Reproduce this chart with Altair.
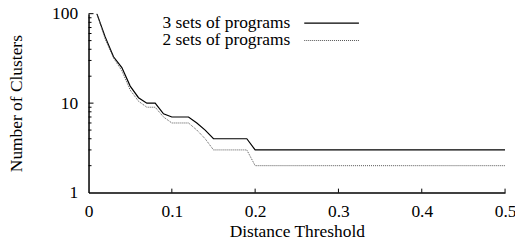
import altair as alt
import pandas as pd

# data
x_vals = [0.01, 0.02, 0.03, 0.04, 0.05, 0.06, 0.07, 0.08, 0.09, 0.10,
          0.11, 0.12, 0.13, 0.14, 0.15, 0.16, 0.17, 0.18, 0.19, 0.20, 0.50]
three_sets = [100, 55, 33, 25, 15.5, 11.5, 10, 10, 7.6, 7,
              7, 7, 6, 5, 4, 4, 4, 4, 4, 3, 3]
two_sets = [100, 52, 32, 23, 14, 10.5, 9, 9, 7, 6,
            6, 6, 5, 4, 3, 3, 3, 3, 3, 2, 2]
series_names = ["3 sets of programs", "2 sets of programs"]
y_major = [10, 100]
y_minor = [2, 3, 4, 5, 6, 7, 8, 9, 20, 30, 40, 50, 60, 70, 80, 90]
x_ticks = [0.1, 0.2, 0.3, 0.4, 0.5]

W, H = 419, 180
FONT = "Liberation Serif"
FS = 17.5

df3 = pd.DataFrame({"x": x_vals, "y": three_sets})
df2 = pd.DataFrame({"x": x_vals, "y": two_sets})

xscale = alt.Scale(domain=[0, 0.5], nice=False, zero=False)
yscale = alt.Scale(type="log", domain=[1, 100], nice=False)

xaxis = alt.Axis(values=[0, 0.1, 0.2, 0.3, 0.4, 0.5], format="~g",
                 labelPadding=10,
                 title="Distance Threshold",
                 titleX=W / 2, titleY=39, titleBaseline="middle")
yaxis = alt.Axis(values=[1, 10, 100], format="d",
                 labelPadding=11,
                 title="Number of Clusters",
                 titleX=-72, titleY=H / 2, titleAngle=-90, titleBaseline="middle")

line3 = alt.Chart(df3).mark_line(color="black", strokeWidth=1.2, clip=True).encode(
    x=alt.X("x:Q", scale=xscale, axis=xaxis),
    y=alt.Y("y:Q", scale=yscale, axis=yaxis),
)
line2 = alt.Chart(df2).mark_line(color="#555", strokeWidth=1, strokeDash=[1, 1], clip=True).encode(
    x=alt.X("x:Q", scale=xscale),
    y=alt.Y("y:Q", scale=yscale),
)

ymaj = alt.Chart(pd.DataFrame({"v": y_major})).mark_rule(color="black", strokeWidth=1).encode(
    y=alt.Y("v:Q", scale=yscale), x=alt.value(0), x2=alt.value(5))
ymin = alt.Chart(pd.DataFrame({"v": y_minor})).mark_rule(color="black", strokeWidth=1).encode(
    y=alt.Y("v:Q", scale=yscale), x=alt.value(0), x2=alt.value(3))
xtk = alt.Chart(pd.DataFrame({"v": x_ticks})).mark_rule(color="black", strokeWidth=1).encode(
    x=alt.X("v:Q", scale=xscale), y=alt.value(H), y2=alt.value(H - 4))

leg_y = [9.5, 27]
leg_text = []
leg_line = []
for i, name in enumerate(series_names):
    leg_text.append(
        alt.Chart(pd.DataFrame({"t": [name]})).mark_text(
            font=FONT, fontSize=FS, align="right", baseline="middle", color="black"
        ).encode(text="t:N", x=alt.value(203), y=alt.value(leg_y[i]))
    )
    if i == 0:
        m = alt.Chart(pd.DataFrame({"t": [name]})).mark_rule(color="black", strokeWidth=1.2)
    else:
        m = alt.Chart(pd.DataFrame({"t": [name]})).mark_rule(color="#555", strokeWidth=1, strokeDash=[1, 1])
    leg_line.append(m.encode(x=alt.value(217), x2=alt.value(272), y=alt.value(leg_y[i])))

chart = alt.layer(line3, line2, ymaj, ymin, xtk, *leg_text, *leg_line).properties(
    width=W, height=H,
    autosize=alt.AutoSizeParams(type="none"),
    padding={"left": 81, "top": 5, "right": 10, "bottom": 50},
).configure(
    font=FONT, background="white"
).configure_view(stroke=None).configure_axis(
    ticks=False, grid=False, domainColor="black", domainWidth=1.5,
    labelFont=FONT, labelFontSize=FS, labelColor="black", labelFlush=False,
    titleFont=FONT, titleFontSize=FS, titleFontWeight="normal", titleColor="black",
).configure_text(font=FONT, fontSize=FS)

chart.save("out.html", embed_options={"renderer": "svg", "actions": False})
